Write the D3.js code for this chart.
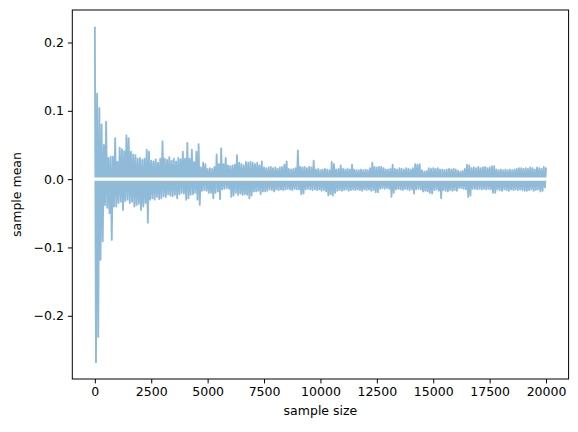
<!DOCTYPE html>
<html>
<head>
<meta charset="utf-8">
<script src="https://cdn.jsdelivr.net/npm/d3@7"></script>
<style>
  html, body { margin: 0; padding: 0; background: #fff; }
  svg { display: block; }
  text { font-family: "DejaVu Sans", sans-serif; fill: #000; }
</style>
</head>
<body>
<svg id="chart" width="578" height="432"></svg>
<script>
// ---- data ----
const sampleStep = 50; // sample sizes: 1, 50, 100, ..., 20000
const sampleMeans = [
  0.223, -0.268, 0.125, -0.231, 0.104, -0.118, 0.080, -0.091, 0.050, -0.038, 0.084, -0.042, 0.031, -0.050, 0.033, -0.089, 0.033, -0.040, 0.060, -0.040,
  0.025, -0.035, 0.046, -0.033, 0.044, -0.045, 0.041, -0.032, 0.064, -0.030, 0.060, -0.035, 0.040, -0.033, 0.036, -0.040, 0.035, -0.038, 0.030, -0.036,
  0.031, -0.045, 0.028, -0.040, 0.030, -0.035, 0.043, -0.064, 0.040, -0.030, 0.027, -0.028, 0.026, -0.030, 0.029, -0.026, 0.024, -0.029, 0.030, -0.028,
  0.055, -0.025, 0.030, -0.026, 0.028, -0.022, 0.032, -0.024, 0.027, -0.025, 0.030, -0.023, 0.026, -0.028, 0.031, -0.022, 0.029, -0.020, 0.040, -0.021,
  0.030, -0.030, 0.053, -0.028, 0.030, -0.023, 0.043, -0.022, 0.025, -0.020, 0.040, -0.030, 0.051, -0.038, 0.017, -0.017, 0.024, -0.016, 0.022, -0.017,
  0.015, -0.020, 0.016, -0.020, 0.015, -0.028, 0.018, -0.020, 0.036, -0.018, 0.022, -0.029, 0.045, -0.015, 0.022, -0.014, 0.031, -0.013, 0.020, -0.014,
  0.019, -0.026, 0.020, -0.024, 0.021, -0.020, 0.035, -0.023, 0.024, -0.021, 0.022, -0.023, 0.020, -0.022, 0.025, -0.023, 0.024, -0.028, 0.025, -0.024,
  0.024, -0.018, 0.022, -0.018, 0.024, -0.017, 0.020, -0.022, 0.026, -0.018, 0.017, -0.018, 0.016, -0.017, 0.017, -0.015, 0.018, -0.016, 0.016, -0.018,
  0.017, -0.015, 0.015, -0.016, 0.017, -0.015, 0.018, -0.016, 0.021, -0.015, 0.026, -0.014, 0.015, -0.015, 0.014, -0.016, 0.015, -0.014, 0.016, -0.015,
  0.042, -0.015, 0.018, -0.022, 0.017, -0.021, 0.018, -0.015, 0.016, -0.014, 0.018, -0.015, 0.017, -0.016, 0.027, -0.015, 0.014, -0.016, 0.015, -0.015,
  0.013, -0.017, 0.014, -0.016, 0.015, -0.018, 0.014, -0.024, 0.013, -0.022, 0.025, -0.024, 0.022, -0.020, 0.014, -0.017, 0.015, -0.016, 0.020, -0.017,
  0.015, -0.016, 0.014, -0.015, 0.015, -0.017, 0.014, -0.016, 0.021, -0.015, 0.014, -0.016, 0.013, -0.015, 0.013, -0.016, 0.014, -0.017, 0.013, -0.015,
  0.014, -0.016, 0.013, -0.015, 0.016, -0.017, 0.024, -0.016, 0.018, -0.019, 0.017, -0.019, 0.018, -0.014, 0.018, -0.013, 0.016, -0.014, 0.014, -0.013,
  0.014, -0.014, 0.015, -0.026, 0.021, -0.020, 0.015, -0.015, 0.014, -0.014, 0.016, -0.015, 0.015, -0.016, 0.014, -0.014, 0.016, -0.015, 0.015, -0.016,
  0.014, -0.015, 0.016, -0.021, 0.022, -0.015, 0.021, -0.014, 0.022, -0.015, 0.013, -0.018, 0.011, -0.017, 0.012, -0.018, 0.016, -0.020, 0.015, -0.021,
  0.016, -0.016, 0.015, -0.015, 0.016, -0.017, 0.014, -0.028, 0.014, -0.016, 0.013, -0.017, 0.014, -0.018, 0.015, -0.016, 0.014, -0.017, 0.015, -0.016,
  0.014, -0.017, 0.012, -0.013, 0.011, -0.013, 0.012, -0.014, 0.015, -0.015, 0.021, -0.026, 0.020, -0.024, 0.016, -0.014, 0.017, -0.014, 0.016, -0.015,
  0.018, -0.014, 0.016, -0.015, 0.017, -0.014, 0.018, -0.015, 0.016, -0.014, 0.017, -0.015, 0.019, -0.020, 0.019, -0.020, 0.014, -0.015, 0.013, -0.016,
  0.014, -0.017, 0.013, -0.015, 0.014, -0.016, 0.013, -0.017, 0.014, -0.015, 0.013, -0.016, 0.014, -0.015, 0.015, -0.016, 0.016, -0.015, 0.016, -0.016,
  0.015, -0.017, 0.016, -0.017, 0.015, -0.016, 0.017, -0.015, 0.016, -0.017, 0.014, -0.016, 0.017, -0.015, 0.016, -0.018, 0.015, -0.017, 0.018, -0.012,
  0.017
];
const sampleSizes = sampleMeans.map((_, i) => (i === 0 ? 1 : i * sampleStep));
const xTicks = [0, 2500, 5000, 7500, 10000, 12500, 15000, 17500, 20000];
const yTicks = [-0.2, -0.1, 0.0, 0.1, 0.2];
const xLabel = "sample size";
const yLabel = "sample mean";

// ---- layout ----
const W = 578, H = 432;
const frame = { left: 72.3, right: 568.6, top: 10, bottom: 379 };
const svg = d3.select("#chart");

function padded(ext) {
  const r = ext[1] - ext[0];
  return [ext[0] - 0.05 * r, ext[1] + 0.05 * r];
}
const x = d3.scaleLinear().domain(padded(d3.extent(sampleSizes))).range([frame.left, frame.right]);
const y = d3.scaleLinear().domain(padded(d3.extent(sampleMeans))).range([frame.bottom, frame.top]);

const clipId = "plotclip";
svg.append("defs").append("clipPath").attr("id", clipId)
  .append("rect")
  .attr("x", frame.left).attr("y", frame.top)
  .attr("width", frame.right - frame.left).attr("height", frame.bottom - frame.top);

const plot = svg.append("g").attr("clip-path", `url(#${clipId})`);

const line = d3.line()
  .x((d, i) => x(sampleSizes[i]))
  .y(d => y(d));

plot.append("path")
  .datum(sampleMeans)
  .attr("fill", "none")
  .attr("stroke", "#1f77b4")
  .attr("stroke-opacity", 0.5)
  .attr("stroke-width", 1.875)
  .attr("stroke-linejoin", "round")
  .attr("d", line);

// white reference line at zero
plot.append("line")
  .attr("x1", frame.left).attr("x2", frame.right)
  .attr("y1", y(0)).attr("y2", y(0))
  .attr("stroke", "#fff")
  .attr("stroke-width", 3.3);

// frame
svg.append("rect")
  .attr("x", frame.left).attr("y", frame.top)
  .attr("width", frame.right - frame.left).attr("height", frame.bottom - frame.top)
  .attr("fill", "none").attr("stroke", "#000").attr("stroke-width", 1);

const fmtY = v => d3.format(".1f")(v).replace("-", "\u2212");

// x axis
const xAxis = d3.axisBottom(x).tickValues(xTicks).tickSize(4.4).tickPadding(4).tickFormat(d3.format("d"));
const gx = svg.append("g").attr("transform", `translate(0,${frame.bottom})`).call(xAxis);
gx.select(".domain").remove();
gx.selectAll(".tick line").attr("stroke", "#000").attr("stroke-width", 1);
gx.selectAll(".tick text").attr("font-size", "12.5px").attr("font-family", "DejaVu Sans").attr("fill", "#000");

// y axis
const yAxis = d3.axisLeft(y).tickValues(yTicks).tickSize(4.4).tickPadding(4).tickFormat(fmtY);
const gy = svg.append("g").attr("transform", `translate(${frame.left},0)`).call(yAxis);
gy.select(".domain").remove();
gy.selectAll(".tick line").attr("stroke", "#000").attr("stroke-width", 1);
gy.selectAll(".tick text").attr("font-size", "12.5px").attr("font-family", "DejaVu Sans").attr("fill", "#000");

// axis labels
svg.append("text")
  .attr("x", (frame.left + frame.right) / 2)
  .attr("y", 415)
  .attr("text-anchor", "middle")
  .attr("font-size", "12.5px")
  .text(xLabel);

svg.append("text")
  .attr("transform", `translate(21,${(frame.top + frame.bottom) / 2}) rotate(-90)`)
  .attr("text-anchor", "middle")
  .attr("font-size", "12.5px")
  .text(yLabel);
</script>
</body>
</html>
